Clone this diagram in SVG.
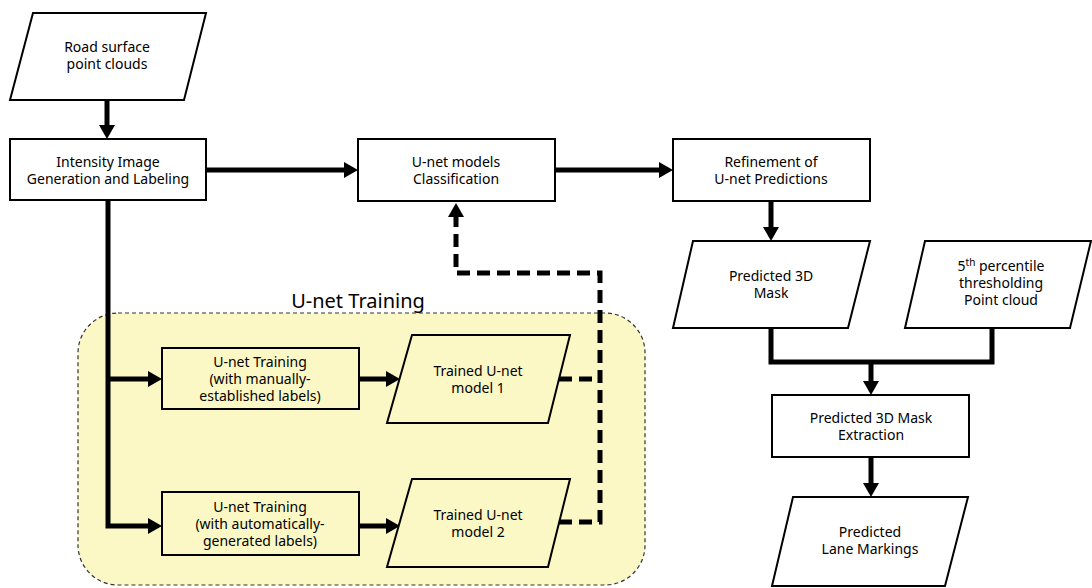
<svg xmlns="http://www.w3.org/2000/svg" width="1092" height="588" viewBox="0 0 1092 588">
<style>
.box{fill:#fff;stroke:#000;stroke-width:2}
.ybox{fill:#fcf8c5;stroke:#000;stroke-width:2}
.t{font-family:"Noto Sans","Open Sans",sans-serif;font-size:14px;fill:#000;text-anchor:middle}
.title{font-family:"Noto Sans","Open Sans",sans-serif;font-size:20px;fill:#000;text-anchor:middle}
.c{fill:none;stroke:#000;stroke-width:5}
.d{fill:none;stroke:#000;stroke-width:5;stroke-dasharray:13 7}
</style>
<defs>
<marker id="ah" viewBox="0 0 14 16" refX="0" refY="8" markerWidth="14" markerHeight="16" markerUnits="userSpaceOnUse" orient="auto">
<path d="M0,0 L14,8 L0,16 z" fill="#000"/>
</marker>
</defs>
<rect x="78" y="313" width="567" height="272" rx="40" ry="40" fill="#fcf8c5" stroke="#333" stroke-width="1.2" stroke-dasharray="4 3"/>
<text class="title" x="358" y="308">U-net Training</text>
<g id="connectors">
<path class="c" d="M107,100 V125" marker-end="url(#ah)"/>
<path class="c" d="M206,170 H344" marker-end="url(#ah)"/>
<path class="c" d="M555,170 H659" marker-end="url(#ah)"/>
<path class="c" d="M771,201 V227" marker-end="url(#ah)"/>
<path class="c" d="M771,328 V362 H992 V328" stroke-linejoin="miter"/>
<path class="c" d="M871,362 V381" marker-end="url(#ah)"/>
<path class="c" d="M871,457 V483" marker-end="url(#ah)"/>
<path class="c" d="M108,200 V526 H148" marker-end="url(#ah)"/>
<path class="c" d="M108,379 H148" marker-end="url(#ah)"/>
<path class="c" d="M359,379 H386" marker-end="url(#ah)"/>
<path class="c" d="M359,526 H386" marker-end="url(#ah)"/>
<path class="d" d="M559,379 H600"/>
<path class="d" d="M559,522 H600 V273 H456 V217" marker-end="url(#ah)"/>
</g>
<g id="road">
<polygon class="box" points="33,13 206,13 184,100 10,100"/>
<text class="t" x="107" y="52">Road surface</text>
<text class="t" x="107" y="69">point clouds</text>
</g>
<g id="intensity">
<rect class="box" x="10" y="139" width="196" height="61"/>
<text class="t" x="108" y="167">Intensity Image</text>
<text class="t" x="108" y="184">Generation and Labeling</text>
</g>
<g id="classification">
<rect class="box" x="358" y="139" width="197" height="62"/>
<text class="t" x="456" y="167">U-net models</text>
<text class="t" x="456" y="184">Classification</text>
</g>
<g id="refinement">
<rect class="box" x="673" y="139" width="197" height="62"/>
<text class="t" x="771" y="167">Refinement of</text>
<text class="t" x="771" y="184">U-net Predictions</text>
</g>
<g id="mask">
<polygon class="box" points="693,241 870,241 848,328 673,328"/>
<text class="t" x="771" y="281">Predicted 3D</text>
<text class="t" x="771" y="298">Mask</text>
</g>
<g id="percentile">
<polygon class="box" points="925,241 1091,241 1070,328 905,328"/>
<text class="t" x="1001" y="271">5<tspan font-size="10" dy="-5">th</tspan><tspan dy="5"> percentile</tspan></text>
<text class="t" x="1001" y="288">thresholding</text>
<text class="t" x="1001" y="305">Point cloud</text>
</g>
<g id="extraction">
<rect class="box" x="772" y="395" width="197" height="62"/>
<text class="t" x="871" y="423">Predicted 3D Mask</text>
<text class="t" x="871" y="440">Extraction</text>
</g>
<g id="lane">
<polygon class="box" points="793,497 968,497 945,586 772,586"/>
<text class="t" x="870" y="537">Predicted</text>
<text class="t" x="870" y="554">Lane Markings</text>
</g>
<g id="train1">
<rect class="ybox" x="162" y="348" width="197" height="61"/>
<text class="t" x="260" y="367">U-net Training</text>
<text class="t" x="260" y="384">(with manually-</text>
<text class="t" x="260" y="401">established labels)</text>
</g>
<g id="train2">
<rect class="ybox" x="162" y="492" width="197" height="63"/>
<text class="t" x="260" y="512">U-net Training</text>
<text class="t" x="260" y="529">(with automatically-</text>
<text class="t" x="260" y="546">generated labels)</text>
</g>
<g id="model1">
<polygon class="ybox" points="412,335 570,335 548,423 387,423"/>
<text class="t" x="478" y="376">Trained U-net</text>
<text class="t" x="478" y="393">model 1</text>
</g>
<g id="model2">
<polygon class="ybox" points="412,479 570,479 548,567 387,567"/>
<text class="t" x="478" y="520">Trained U-net</text>
<text class="t" x="478" y="537">model 2</text>
</g>
</svg>
